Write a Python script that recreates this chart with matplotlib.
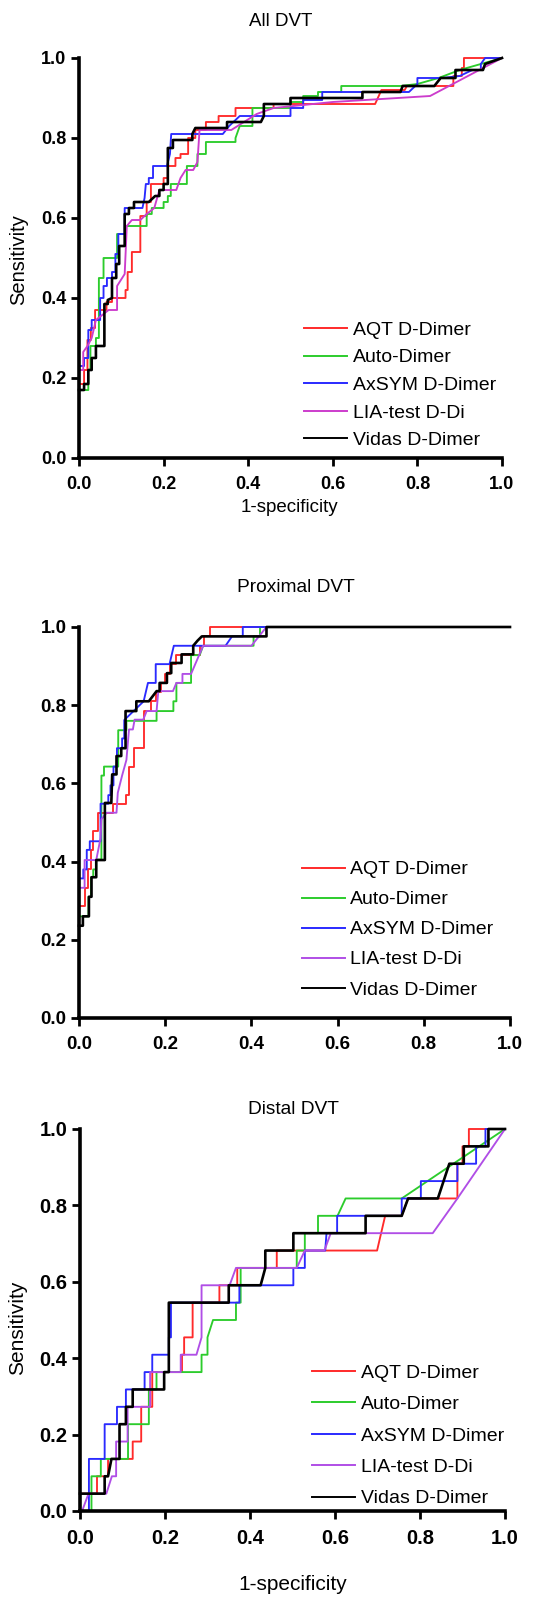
import matplotlib
matplotlib.use("Agg")
import matplotlib.pyplot as plt

plt.rcParams['font.family'] = ['Liberation Sans', 'DejaVu Sans']

labels = ['AQT D-Dimer', 'Auto-Dimer', 'AxSYM D-Dimer', 'LIA-test D-Di', 'Vidas D-Dimer']
ticks = [0.0, 0.2, 0.4, 0.6, 0.8, 1.0]
tick_labels = ['0.0', '0.2', '0.4', '0.6', '0.8', '1.0']

# ---- All DVT: (1-specificity, sensitivity) vertices
all_aqt = [(0, 0.185), (0.012, 0.185), (0.012, 0.22), (0.02, 0.22), (0.02, 0.295), (0.028, 0.295),
           (0.028, 0.325), (0.038, 0.325), (0.038, 0.37), (0.065, 0.37), (0.065, 0.39), (0.078, 0.39),
           (0.078, 0.40), (0.11, 0.40), (0.11, 0.42), (0.115, 0.42), (0.115, 0.465), (0.125, 0.465),
           (0.125, 0.515), (0.145, 0.515), (0.145, 0.605), (0.16, 0.605), (0.16, 0.64), (0.17, 0.64),
           (0.17, 0.685), (0.2, 0.685), (0.2, 0.70), (0.21, 0.70), (0.21, 0.73), (0.228, 0.73),
           (0.228, 0.75), (0.24, 0.75), (0.24, 0.76), (0.258, 0.76), (0.258, 0.80), (0.275, 0.80),
           (0.275, 0.82), (0.30, 0.82), (0.30, 0.84), (0.33, 0.84), (0.33, 0.855), (0.37, 0.855),
           (0.37, 0.875), (0.46, 0.875), (0.46, 0.885), (0.70, 0.885), (0.715, 0.92), (0.77, 0.92),
           (0.775, 0.93), (0.885, 0.93), (0.885, 0.955), (0.905, 0.955), (0.905, 0.975), (0.91, 0.975),
           (0.91, 1.0), (1.0, 1.0)]
all_auto = [(0, 0.17), (0.022, 0.17), (0.022, 0.22), (0.027, 0.22), (0.027, 0.28), (0.04, 0.28),
            (0.04, 0.30), (0.047, 0.30), (0.047, 0.45), (0.058, 0.45), (0.058, 0.50), (0.09, 0.50),
            (0.09, 0.56), (0.11, 0.56), (0.11, 0.58), (0.16, 0.58), (0.16, 0.61), (0.172, 0.61),
            (0.172, 0.625), (0.2, 0.625), (0.2, 0.64), (0.21, 0.64), (0.21, 0.655), (0.217, 0.655),
            (0.217, 0.685), (0.255, 0.685), (0.255, 0.73), (0.28, 0.73), (0.28, 0.76), (0.3, 0.76),
            (0.3, 0.79), (0.37, 0.79), (0.37, 0.80), (0.38, 0.83), (0.41, 0.83), (0.41, 0.875),
            (0.5, 0.875), (0.5, 0.89), (0.53, 0.89), (0.53, 0.905), (0.565, 0.905), (0.565, 0.915),
            (0.62, 0.915), (0.62, 0.93), (0.76, 0.93), (0.8, 0.935), (0.85, 0.95), (0.9, 0.97),
            (0.95, 0.985), (1.0, 1.0)]
all_axsym = [(0, 0.23), (0.012, 0.23), (0.012, 0.25), (0.022, 0.25), (0.022, 0.32), (0.03, 0.32),
             (0.03, 0.345), (0.05, 0.345), (0.05, 0.40), (0.058, 0.40), (0.058, 0.43), (0.066, 0.43),
             (0.066, 0.45), (0.078, 0.45), (0.078, 0.465), (0.086, 0.465), (0.086, 0.51), (0.093, 0.51),
             (0.093, 0.56), (0.108, 0.56), (0.108, 0.625), (0.15, 0.625), (0.155, 0.65), (0.158, 0.685),
             (0.165, 0.685), (0.165, 0.70), (0.175, 0.70), (0.175, 0.73), (0.208, 0.73), (0.215, 0.76),
             (0.218, 0.81), (0.34, 0.81), (0.355, 0.83), (0.38, 0.855), (0.5, 0.855), (0.5, 0.875),
             (0.53, 0.875), (0.53, 0.895), (0.575, 0.895), (0.575, 0.915), (0.78, 0.915), (0.8, 0.935),
             (0.8, 0.95), (0.86, 0.95), (0.9, 0.955), (0.93, 0.97), (0.95, 0.97), (0.95, 0.985),
             (0.96, 1.0), (1.0, 1.0)]
all_lia = [(0, 0.22), (0.01, 0.22), (0.01, 0.265), (0.02, 0.28), (0.03, 0.30), (0.04, 0.345),
           (0.07, 0.37), (0.09, 0.37), (0.09, 0.43), (0.108, 0.46), (0.113, 0.58), (0.125, 0.595),
           (0.145, 0.595), (0.16, 0.61), (0.178, 0.625), (0.19, 0.67), (0.23, 0.67), (0.24, 0.70),
           (0.252, 0.72), (0.27, 0.72), (0.28, 0.74), (0.285, 0.82), (0.36, 0.82), (0.42, 0.86),
           (0.46, 0.875), (0.6, 0.89), (0.83, 0.905), (1.0, 1.0)]
all_vidas = [(0, 0.17), (0.012, 0.17), (0.012, 0.185), (0.022, 0.185), (0.022, 0.22), (0.03, 0.22),
             (0.03, 0.25), (0.04, 0.25), (0.04, 0.28), (0.06, 0.28), (0.06, 0.385), (0.068, 0.385),
             (0.068, 0.395), (0.078, 0.40), (0.078, 0.45), (0.088, 0.45), (0.088, 0.485), (0.095, 0.485),
             (0.095, 0.53), (0.108, 0.53), (0.108, 0.61), (0.118, 0.61), (0.118, 0.625), (0.13, 0.625),
             (0.13, 0.64), (0.165, 0.64), (0.18, 0.655), (0.19, 0.655), (0.19, 0.67), (0.2, 0.67),
             (0.2, 0.685), (0.21, 0.685), (0.21, 0.775), (0.222, 0.775), (0.222, 0.795), (0.268, 0.795),
             (0.268, 0.81), (0.275, 0.825), (0.35, 0.825), (0.35, 0.84), (0.43, 0.84), (0.437, 0.855),
             (0.437, 0.885), (0.5, 0.885), (0.5, 0.9), (0.67, 0.9), (0.67, 0.915), (0.76, 0.915),
             (0.765, 0.93), (0.84, 0.93), (0.855, 0.95), (0.89, 0.95), (0.89, 0.97), (0.955, 0.97),
             (0.96, 0.985), (1.0, 1.0)]

# ---- Proximal DVT
prox_aqt = [(0, 0.287), (0.015, 0.287), (0.015, 0.333), (0.02, 0.333), (0.02, 0.38), (0.028, 0.38),
            (0.028, 0.43), (0.033, 0.43), (0.033, 0.478), (0.045, 0.478), (0.045, 0.525), (0.08, 0.525),
            (0.08, 0.548), (0.108, 0.548), (0.108, 0.57), (0.117, 0.57), (0.117, 0.643), (0.128, 0.643),
            (0.128, 0.69), (0.15, 0.69), (0.15, 0.785), (0.168, 0.785), (0.168, 0.81), (0.178, 0.81),
            (0.178, 0.835), (0.19, 0.835), (0.19, 0.857), (0.2, 0.857), (0.2, 0.88), (0.21, 0.88),
            (0.21, 0.905), (0.225, 0.905), (0.225, 0.928), (0.28, 0.928), (0.28, 0.952), (0.29, 0.952),
            (0.29, 0.976), (0.305, 0.976), (0.305, 1.0), (1.0, 1.0)]
prox_auto = [(0, 0.26), (0.022, 0.26), (0.022, 0.31), (0.028, 0.31), (0.028, 0.36), (0.033, 0.36),
             (0.033, 0.38), (0.04, 0.38), (0.04, 0.405), (0.052, 0.405), (0.052, 0.62), (0.058, 0.62),
             (0.058, 0.643), (0.091, 0.643), (0.091, 0.736), (0.11, 0.736), (0.11, 0.76), (0.18, 0.76),
             (0.18, 0.785), (0.219, 0.785), (0.219, 0.81), (0.226, 0.81), (0.226, 0.857), (0.26, 0.857),
             (0.26, 0.928), (0.28, 0.928), (0.288, 0.952), (0.405, 0.952), (0.405, 0.976), (0.42, 0.976),
             (0.42, 1.0), (1.0, 1.0)]
prox_axsym = [(0, 0.357), (0.01, 0.357), (0.01, 0.38), (0.018, 0.38), (0.018, 0.43), (0.025, 0.43),
              (0.025, 0.452), (0.05, 0.452), (0.05, 0.548), (0.068, 0.548), (0.068, 0.57), (0.073, 0.57),
              (0.073, 0.595), (0.08, 0.595), (0.08, 0.643), (0.088, 0.643), (0.088, 0.69), (0.1, 0.69),
              (0.1, 0.715), (0.105, 0.715), (0.105, 0.762), (0.15, 0.81), (0.16, 0.857), (0.178, 0.857),
              (0.178, 0.905), (0.21, 0.905), (0.22, 0.952), (0.34, 0.952), (0.355, 0.976), (0.38, 0.976),
              (0.38, 1.0), (1.0, 1.0)]
prox_lia = [(0, 0.333), (0.013, 0.333), (0.013, 0.404), (0.04, 0.404), (0.05, 0.46), (0.052, 0.508),
            (0.064, 0.525), (0.087, 0.525), (0.09, 0.576), (0.1, 0.62), (0.11, 0.66), (0.116, 0.738),
            (0.125, 0.738), (0.129, 0.763), (0.149, 0.763), (0.157, 0.785), (0.18, 0.785), (0.184, 0.836),
            (0.218, 0.836), (0.226, 0.857), (0.24, 0.857), (0.24, 0.88), (0.26, 0.88), (0.288, 0.952),
            (0.4, 0.952), (0.435, 1.0), (1.0, 1.0)]
prox_vidas = [(0, 0.236), (0.009, 0.236), (0.009, 0.26), (0.023, 0.26), (0.023, 0.31), (0.029, 0.31),
              (0.029, 0.36), (0.04, 0.36), (0.04, 0.404), (0.06, 0.404), (0.06, 0.55), (0.075, 0.55),
              (0.077, 0.623), (0.087, 0.623), (0.087, 0.67), (0.098, 0.67), (0.098, 0.69), (0.108, 0.69),
              (0.108, 0.785), (0.133, 0.785), (0.133, 0.81), (0.162, 0.81), (0.18, 0.836), (0.187, 0.836),
              (0.187, 0.857), (0.204, 0.857), (0.204, 0.882), (0.214, 0.882), (0.214, 0.908), (0.238, 0.908),
              (0.238, 0.93), (0.265, 0.93), (0.265, 0.952), (0.275, 0.965), (0.285, 0.976), (0.435, 0.976),
              (0.435, 1.0), (1.0, 1.0)]

# ---- Distal DVT: (1-specificity, number of detected cases out of 22)
n_distal = 22
dist_aqt = [(0, 0), (0, 1), (0.04, 1), (0.04, 2), (0.066, 2), (0.066, 3), (0.124, 3), (0.124, 4),
            (0.144, 4), (0.144, 6), (0.17, 6), (0.17, 8), (0.24, 8), (0.24, 9), (0.245, 9), (0.245, 10),
            (0.265, 10), (0.265, 12), (0.328, 12), (0.328, 13), (0.37, 13), (0.37, 14), (0.463, 14),
            (0.463, 15), (0.699, 15), (0.718, 17), (0.757, 17), (0.772, 18), (0.888, 18), (0.888, 20),
            (0.9, 20), (0.9, 21), (0.915, 21), (0.915, 22), (1.0, 22)]
dist_auto = [(0, 0), (0.027, 0), (0.027, 2), (0.049, 2), (0.049, 3), (0.113, 3), (0.113, 5), (0.162, 5),
             (0.162, 7), (0.18, 7), (0.18, 8), (0.286, 8), (0.286, 9), (0.30, 9), (0.30, 10), (0.313, 11),
             (0.367, 11), (0.367, 12), (0.378, 12), (0.378, 14), (0.51, 14), (0.51, 15), (0.529, 15),
             (0.529, 16), (0.56, 16), (0.56, 17), (0.606, 17), (0.625, 18), (0.757, 18), (1.0, 22)]
dist_axsym = [(0, 0), (0.021, 0), (0.021, 3), (0.058, 3), (0.058, 5), (0.087, 5), (0.087, 6), (0.108, 6),
              (0.108, 7), (0.152, 7), (0.152, 8), (0.17, 8), (0.17, 9), (0.209, 9), (0.209, 10),
              (0.214, 10), (0.214, 12), (0.375, 12), (0.375, 13), (0.502, 13), (0.502, 14), (0.529, 14),
              (0.529, 15), (0.577, 15), (0.58, 16), (0.605, 16), (0.605, 17), (0.757, 17), (0.757, 18),
              (0.802, 18), (0.802, 19), (0.888, 19), (0.888, 20), (0.932, 20), (0.932, 21), (0.954, 21),
              (0.954, 22), (1.0, 22)]
dist_lia = [(0.005, 0), (0.02, 1), (0.062, 1), (0.075, 2), (0.085, 2), (0.085, 4), (0.112, 4),
            (0.112, 6), (0.165, 6), (0.165, 8), (0.237, 8), (0.237, 9), (0.274, 9), (0.286, 10),
            (0.286, 13), (0.352, 13), (0.367, 14), (0.51, 14), (0.529, 15), (0.575, 15), (0.59, 16),
            (0.83, 16), (0.888, 18), (1.0, 22)]
dist_vidas = [(0, 1), (0.058, 1), (0.058, 2), (0.066, 2), (0.074, 3), (0.093, 3), (0.093, 5), (0.108, 5),
              (0.108, 6), (0.124, 6), (0.124, 7), (0.198, 7), (0.198, 8), (0.209, 8), (0.209, 12),
              (0.35, 12), (0.35, 13), (0.425, 13), (0.436, 14), (0.436, 15), (0.502, 15), (0.502, 16),
              (0.672, 16), (0.672, 17), (0.757, 17), (0.772, 18), (0.842, 18), (0.869, 20), (0.903, 20),
              (0.903, 21), (0.961, 21), (0.961, 22), (1.0, 22)]

W, H = 533, 1599
fig = plt.figure(figsize=(W / 100, H / 100), dpi=100)


def px_axes(left, top, right, bottom):
    return fig.add_axes([left / W, 1 - bottom / H, (right - left) / W, (bottom - top) / H])


def fig_text(x, y, s, size, **kw):
    fig.text(x / W, 1 - y / H, s, fontsize=size, ha='center', va='center', **kw)


def draw_panel(ax, curves, colors, yscale, tick_size, leg_xy, leg_space):
    for pts, lab, col in zip(curves, labels, colors):
        xs = [p[0] for p in pts]
        ys = [p[1] / yscale for p in pts]
        lw = 1.9 if col == '#000000' else 1.35
        ax.plot(xs, ys, color=col, lw=lw, label=lab, clip_on=False)
    ax.set_xlim(0, 1)
    ax.set_ylim(0, 1)
    ax.spines['top'].set_visible(False)
    ax.spines['right'].set_visible(False)
    for s in ['left', 'bottom']:
        ax.spines[s].set_linewidth(2.6)
    ax.set_xticks(ticks)
    ax.set_yticks(ticks)
    ax.set_xticklabels(tick_labels, fontweight='bold')
    ax.set_yticklabels(tick_labels, fontweight='bold')
    ax.tick_params(axis='both', width=2.0, length=6, labelsize=tick_size)
    ax.tick_params(axis='x', pad=7)
    ax.tick_params(axis='y', pad=3)
    leg = ax.legend(loc='center left', bbox_to_anchor=leg_xy, frameon=False, fontsize=14,
                    borderpad=0, borderaxespad=0, handlelength=2.2, handletextpad=0.3,
                    labelspacing=leg_space)
    for line in leg.get_lines():
        line.set_linewidth(1.4)


colors_1 = ['#ff2a2a', '#2ccc2c', '#2a2aff', '#cc3ccc', '#000000']
colors_23 = ['#ff2a2a', '#2ccc2c', '#2a2aff', '#b04ee6', '#000000']

ax1 = px_axes(79, 58, 502, 458)
draw_panel(ax1, [all_aqt, all_auto, all_axsym, all_lia, all_vidas], colors_1, 1.0, 13,
           (0.533, 0.182), 0.51)
fig_text(281, 21, 'All DVT', 13.5)
fig_text(289, 508, '1-specificity', 13.5)
fig_text(19, 260, 'Sensitivity', 14.5, rotation=90)

ax2 = px_axes(79, 627, 510, 1018)
draw_panel(ax2, [prox_aqt, prox_auto, prox_axsym, prox_lia, prox_vidas], colors_23, 1.0, 13.5,
           (0.517, 0.226), 0.64)
fig_text(296, 588, 'Proximal DVT', 13.8)

ax3 = px_axes(80, 1129, 505, 1511)
draw_panel(ax3, [dist_aqt, dist_auto, dist_axsym, dist_lia, dist_vidas], colors_23, n_distal, 14.5,
           (0.546, 0.197), 0.71)
fig_text(293, 1110, 'Distal DVT', 13.8)
fig_text(293, 1585, '1-specificity', 15)
fig_text(18, 1328, 'Sensitivity', 15, rotation=90)

fig.savefig('out.png', dpi=100)
